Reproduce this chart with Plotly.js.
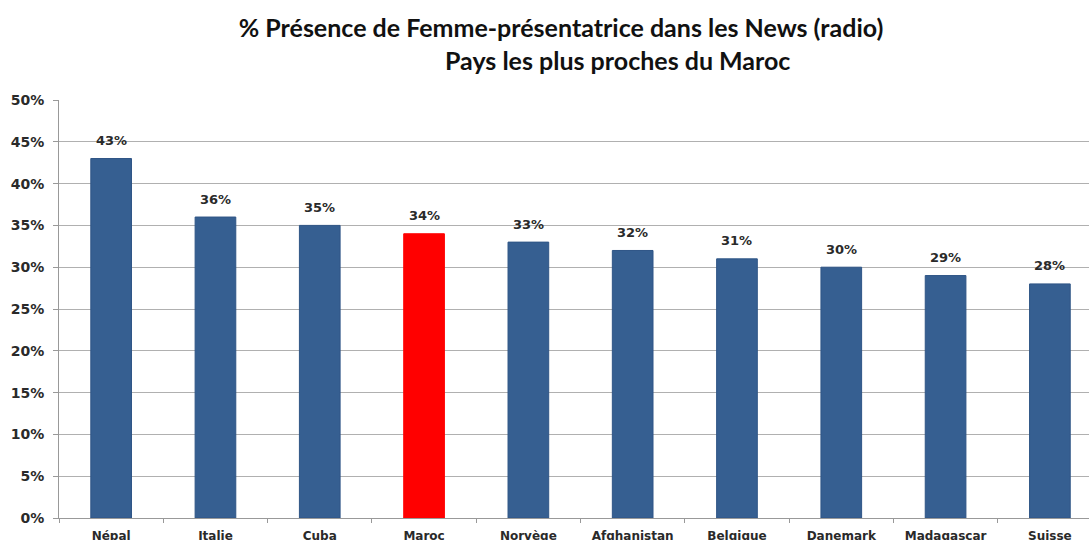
<!DOCTYPE html>
<html><head><meta charset="utf-8">
<script src="https://cdn.plot.ly/plotly-3.0.1.min.js"></script>
<style>html,body{margin:0;padding:0;overflow:hidden;background:#fff}</style>
</head><body>
<div id="chart" style="width:1089px;height:540px"></div>
<script>
const countries = ["Népal","Italie","Cuba","Maroc","Norvège","Afghanistan","Belgique","Danemark","Madagascar","Suisse"];
const presence = [0.43,0.36,0.35,0.34,0.33,0.32,0.31,0.30,0.29,0.28];
const highlight = "Maroc";
const titleLine1 = "% Présence de Femme-présentatrice dans les News (radio)";
const titleLine2 = "Pays les plus proches du Maroc";

const colors = countries.map(c => c === highlight ? "#FF0000" : "#365F91");
const titleFont = "Lato, 'Open Sans', sans-serif";
const labelFont = "'DejaVu Sans', Verdana, sans-serif";

const dataLabels = countries.map((c, i) => ({
  x: c, y: presence[i], xref: "x", yref: "y",
  text: Math.round(presence[i]*100) + "%",
  showarrow: false, xanchor: "center", yanchor: "middle", yshift: 18,
  font: {family: labelFont, size: 13, color: "#2a2a2a", weight: "bold"}
}));

Plotly.newPlot("chart", [{
  type: "bar",
  x: countries,
  y: presence,
  marker: {color: colors, line: {color: colors.map(c => c === "#FF0000" ? "#FF0000" : "#2F5586"), width: 1}},
  width: 0.39,
  hoverinfo: "none"
}], {
  width: 1089, height: 540,
  margin: {l: 59, r: 0, t: 100, b: 22},
  paper_bgcolor: "#fff", plot_bgcolor: "#fff",
  showlegend: false,
  title: {text: titleLine1, x: 561/1089, xanchor: "center", y: 1 - 28/540, yanchor: "middle",
          font: {family: titleFont, size: 25, color: "#111", weight: "bold"}},
  annotations: [{text: titleLine2, xref: "paper", yref: "paper", x: (617-59)/1030, y: (518-60)/418,
                 xanchor: "center", yanchor: "middle", showarrow: false,
                 font: {family: titleFont, size: 25, color: "#111", weight: "bold"}}].concat(dataLabels),
  xaxis: {
    type: "category",
    range: [-0.5, 9.375],
    showline: true, linecolor: "#999", linewidth: 1,
    ticks: "outside", tickson: "boundaries", ticklen: 4, tickcolor: "#999",
    ticklabelstandoff: 7,
    tickfont: {family: labelFont, size: 12, color: "#2a2a2a", weight: "bold"},
    showgrid: false, fixedrange: true
  },
  yaxis: {
    range: [0, 0.5], dtick: 0.05, tickformat: ".0%",
    showline: true, linecolor: "#999", linewidth: 1,
    ticks: "outside", ticklen: 5, tickcolor: "#999",
    ticklabelstandoff: 6,
    gridcolor: "#B0B0B0", gridwidth: 1, zeroline: false,
    tickfont: {family: labelFont, size: 14, color: "#2a2a2a", weight: "bold"},
    fixedrange: true
  }
}, {displayModeBar: false, staticPlot: true});
</script>
</body></html>
